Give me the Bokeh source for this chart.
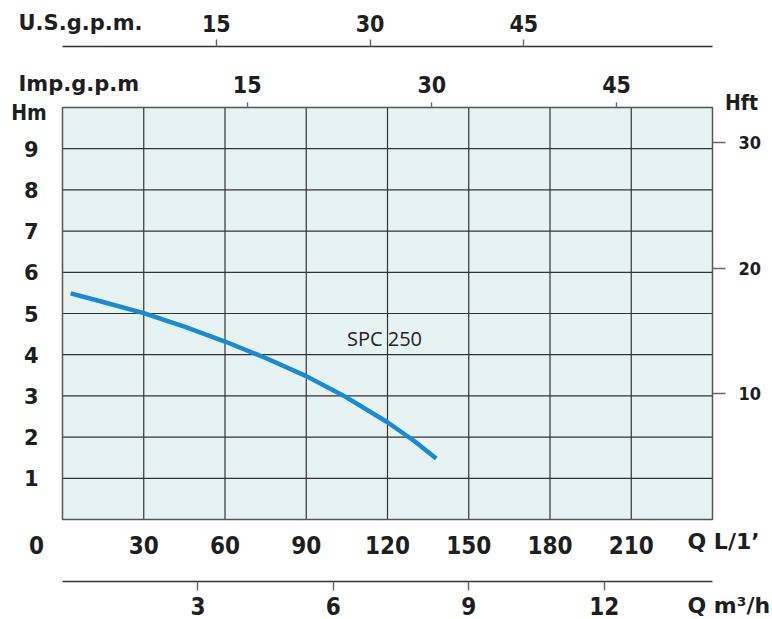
from bokeh.plotting import figure
from bokeh.models import Range1d, LinearAxis, FixedTicker, Label
from bokeh.embed import file_html
from bokeh.resources import INLINE

# ---- data ----
flow_lpm = [3, 15, 30, 45, 60, 75, 90, 105, 120, 130, 138]
head_m = [5.49, 5.28, 5.01, 4.68, 4.32, 3.92, 3.48, 2.96, 2.36, 1.90, 1.48]
curve_name = "SPC 250"

lpm_ticks = [30, 60, 90, 120, 150, 180, 210]
hm_ticks = [1, 2, 3, 4, 5, 6, 7, 8, 9]
imp_ticks = [15, 30, 45]
us_ticks = [15, 30, 45]
m3h_ticks = [3, 6, 9, 12]
ft_ticks = [10, 20, 30]

Q_MAX = 240
H_MAX = 10
IMP_GAL = 4.54609
US_GAL = 3.78541
FT = 0.3048

# ---- layout (pixels) ----
W, H = 772, 619
GX0, GX1, GY0, GY1 = 62, 712, 107, 519  # grid box: left, right, top, bottom
PX = (GX1 - GX0) / Q_MAX
PY = (GY1 - GY0) / H_MAX

def dx(px):
    return (px - GX0) / PX

def dy(py):
    return (GY1 - py) / PY

TICK_FONT = "DejaVu Sans Condensed"
TITLE_FONT = "DejaVu Sans"
INK = "#1e1e1e"

x0, x1 = dx(0), dx(W)
y0, y1 = dy(H), dy(0)

p = figure(width=W, height=H, x_range=Range1d(x0, x1), y_range=Range1d(y0, y1),
           x_axis_type=None, y_axis_type=None,
           output_backend="svg", toolbar_location=None, min_border=0,
           background_fill_color="white", border_fill_color="white",
           outline_line_color=None)

p.extra_x_ranges = {"imp": Range1d(x0 / IMP_GAL, x1 / IMP_GAL),
                    "us": Range1d(x0 / US_GAL, x1 / US_GAL),
                    "m3h": Range1d(x0 * 0.06, x1 * 0.06)}
p.extra_y_ranges = {"ft": Range1d(y0 / FT, y1 / FT)}

# grid box
p.quad(left=0, right=Q_MAX, bottom=0, top=H_MAX, fill_color="#e7f3f3", line_color=None)
p.segment(x0=lpm_ticks, y0=0, x1=lpm_ticks, y1=H_MAX, line_color="#333333", line_width=1.2)
p.segment(x0=0, y0=hm_ticks, x1=Q_MAX, y1=hm_ticks, line_color="#333333", line_width=1.2)
p.quad(left=0, right=Q_MAX, bottom=0, top=H_MAX, fill_color=None,
       line_color="#555555", line_width=1.5)

def make_axis(side, ticks, font, size, loc, bounds, tick_out, standoff,
              bold=True, line=False, **kw):
    ax = LinearAxis(fixed_location=loc, bounds=bounds, **kw)
    ax.ticker = FixedTicker(ticks=ticks)
    ax.minor_tick_line_color = None
    ax.major_label_text_font = font
    ax.major_label_text_font_size = size
    ax.major_label_text_font_style = "bold" if bold else "normal"
    ax.major_label_text_color = INK
    ax.major_tick_in = 0
    ax.major_tick_out = tick_out
    ax.major_tick_line_color = "#666666" if tick_out else None
    ax.major_tick_line_width = 1.4
    ax.major_label_standoff = standoff
    if line:
        ax.axis_line_color = "#333333"
        ax.axis_line_width = 1.5
    else:
        ax.axis_line_color = None
    p.add_layout(ax, side)
    return ax

# L/min (bottom of grid)
make_axis("below", lpm_ticks, TICK_FONT, "24px", 0, (0, Q_MAX), 0, 16)
# Hm (left of grid)
make_axis("left", hm_ticks, TITLE_FONT, "21px", 0, (0, H_MAX), 0, 24)
# Imp gpm (top of grid)
make_axis("above", imp_ticks, TICK_FONT, "23px", H_MAX, (0, Q_MAX / IMP_GAL), 5, 10,
          x_range_name="imp")
# US gpm (separate line above)
make_axis("above", us_ticks, TICK_FONT, "23px", dy(46), (0, Q_MAX / US_GAL), 7, 8,
          line=True, x_range_name="us")
# m3/h (separate line below)
make_axis("below", m3h_ticks, TICK_FONT, "24px", dy(581), (0, Q_MAX * 0.06), 9, 6,
          line=True, x_range_name="m3h")
# Hft (right of grid)
make_axis("right", ft_ticks, TICK_FONT, "18px", Q_MAX, (0, H_MAX / FT), 13, 13,
          y_range_name="ft")

# curve
p.line(flow_lpm, head_m, line_color="#1a8ad2", line_width=4.5,
       line_cap="butt", line_join="round")

def lab(px, py, text, font, size, bold=True, align="center", color=INK):
    p.add_layout(Label(x=dx(px), y=dy(py), text=text, text_font=font,
                       text_font_size=size,
                       text_font_style="bold" if bold else "normal",
                       text_align=align, text_baseline="middle", text_color=color))

lab(384, 338, curve_name, "Open Sans", "20px", bold=False, color="#222222")
lab(36, 544, "0", TICK_FONT, "24px")
lab(687, 541, "Q L/1\u2019", TITLE_FONT, "22px", align="left")
lab(687, 605, "Q m\u00b3/h", TITLE_FONT, "22px", align="left")
lab(28.5, 112, "Hm", TICK_FONT, "21px")
lab(741, 102, "Hft", TICK_FONT, "21px")
lab(18, 22, "U.S.g.p.m.", TITLE_FONT, "21px", align="left")
lab(18, 83, "Imp.g.p.m", TITLE_FONT, "21px", align="left")

open("out.html", "w").write(file_html(p, INLINE))
